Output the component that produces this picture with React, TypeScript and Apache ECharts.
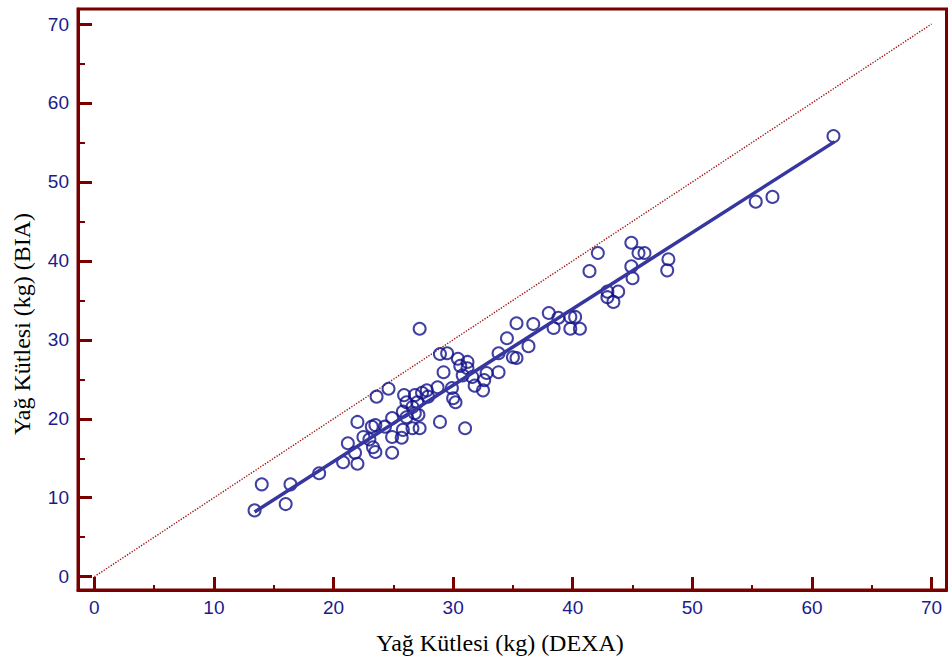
import React, { useEffect, useRef } from "react";
import * as echarts from "echarts";

// DEXA (x) vs BIA (y) fat mass, kg
const dexa = [
  13.4, 14.0, 16.0, 16.4, 18.8, 20.8, 21.2, 21.8, 22.0, 22.0, 22.5, 23.0, 23.2, 23.5, 23.3, 23.5,
  23.6, 24.3, 24.6, 24.9, 24.9, 24.9, 25.7, 25.8, 25.8, 25.9, 26.1, 26.1, 26.6, 26.6, 26.8, 26.8,
  27.0, 27.1, 27.2, 27.2, 27.4, 27.8, 27.9, 28.7, 28.9, 29.5, 29.2, 28.9, 29.9, 30.0, 30.2, 30.4,
  30.6, 31.2, 31.2, 30.8, 31.6, 31.0, 31.8, 32.5, 32.6, 32.8, 33.8, 33.8, 34.5, 35.0, 35.3, 35.3,
  36.3, 36.7, 38.0, 38.4, 38.8, 39.8, 40.2, 39.8, 40.6, 41.4, 42.1, 42.9, 42.9, 43.4, 43.8, 44.9,
  44.9, 45.0, 45.5, 46.0, 48.0, 47.9, 55.3, 56.7, 61.8,
];
const bia = [
  8.4, 11.7, 9.2, 11.7, 13.1, 14.5, 16.9, 15.7, 14.3, 19.6, 17.7, 17.4, 19.0, 19.2, 16.4, 15.8,
  22.8, 19.0, 23.8, 20.1, 17.7, 15.7, 17.6, 18.6, 20.9, 23.0, 20.2, 22.1, 18.8, 21.5, 20.7, 23.0,
  22.1, 20.5, 18.8, 31.4, 23.3, 23.6, 22.8, 24.0, 28.2, 28.3, 25.9, 19.6, 23.9, 22.6, 22.1, 27.6,
  26.7, 27.2, 26.4, 25.5, 25.3, 18.8, 24.2, 23.6, 24.9, 25.8, 28.3, 25.9, 30.2, 27.8, 27.7, 32.1,
  29.2, 32.0, 33.4, 31.5, 32.8, 32.9, 32.9, 31.4, 31.4, 38.7, 41.0, 36.1, 35.4, 34.8, 36.1, 42.3,
  39.3, 37.8, 41.0, 41.0, 40.2, 38.8, 47.5, 48.1, 55.8,
];

// fitted regression line end points and identity line
const fitLine = [
  [13.4, 8.2],
  [61.9, 55.1],
];
const identityLine = [
  [0, 0],
  [70, 70],
];

const majorTicks = [0, 10, 20, 30, 40, 50, 60, 70];
const minorTicks = [5, 15, 25, 35, 45, 55, 65];

const xTitle = "Yağ Kütlesi (kg) (DEXA)";
const yTitle = "Yağ Kütlesi (kg) (BIA)";

const AXIS = "#7a0000";
const LABEL = "#1b1b8c";

export default function App() {
  const ref = useRef<HTMLDivElement>(null);
  useEffect(() => {
    if (!ref.current) return;
    const chart = echarts.init(ref.current, null, { renderer: "svg" });
    const points = dexa.map((x, i) => [x, bia[i]]);
    const xMin = -1.363;
    const xMax = 71.25;
    const yMin = -1.684;
    const yMax = 71.9;
    const labelFont = {
      color: LABEL,
      fontFamily: "Liberation Sans, Arial, sans-serif",
      fontSize: 19,
    };
    const mkX = (minor: boolean) => ({
      type: "value",
      min: xMin,
      max: xMax,
      position: "bottom",
      splitLine: { show: false },
      axisLine: { show: !minor, onZero: false, lineStyle: { color: AXIS, width: 3 } },
      axisTick: {
        show: true,
        inside: true,
        customValues: minor ? minorTicks : majorTicks,
        length: minor ? 5 : 13,
        lineStyle: { color: AXIS, width: minor ? 2 : 3 },
      },
      axisLabel: minor
        ? { show: false }
        : { show: true, customValues: majorTicks, margin: 8, ...labelFont },
    });
    const mkY = (minor: boolean) => ({
      type: "value",
      min: yMin,
      max: yMax,
      position: "left",
      splitLine: { show: false },
      axisLine: { show: !minor, onZero: false, lineStyle: { color: AXIS, width: 3 } },
      axisTick: {
        show: true,
        inside: true,
        customValues: minor ? minorTicks : majorTicks,
        length: minor ? 7 : 14,
        lineStyle: { color: AXIS, width: minor ? 2 : 3 },
      },
      axisLabel: minor
        ? { show: false }
        : { show: true, customValues: majorTicks, margin: 9, ...labelFont },
    });
    chart.setOption({
      animation: false,
      backgroundColor: "#ffffff",
      grid: {
        left: 78,
        right: 1.5,
        top: 9,
        bottom: 74,
        show: true,
        borderColor: AXIS,
        borderWidth: 3,
        containLabel: false,
      },
      xAxis: [mkX(false), mkX(true)],
      yAxis: [mkY(false), mkY(true)],
      graphic: [
        {
          type: "text",
          x: 500,
          y: 643,
          style: {
            text: xTitle,
            fill: "#000",
            font: '24px "Liberation Serif", "Times New Roman", serif',
            textAlign: "center",
            textVerticalAlign: "middle",
          },
        },
        {
          type: "text",
          x: 22,
          y: 324,
          rotation: Math.PI / 2,
          style: {
            text: yTitle,
            fill: "#000",
            font: '24px "Liberation Serif", "Times New Roman", serif',
            textAlign: "center",
            textVerticalAlign: "middle",
          },
        },
      ],
      series: [
        {
          type: "line",
          data: identityLine,
          symbol: "none",
          silent: true,
          z: 1,
          lineStyle: { color: "#a01010", width: 1.4, type: [1.3, 1.5] },
        },
        {
          type: "scatter",
          data: points,
          symbol: "circle",
          symbolSize: 12,
          z: 2,
          itemStyle: {
            color: "rgba(255,255,255,0)",
            borderColor: "#12128a",
            borderWidth: 2,
          },
        },
        {
          type: "line",
          data: fitLine,
          symbol: "none",
          z: 3,
          lineStyle: { color: "#3636a0", width: 3.5 },
        },
      ],
    });
    return () => chart.dispose();
  }, []);
  return (
    <div
      ref={ref}
      style={{ position: "fixed", left: 0, top: 0, width: 948, height: 664, background: "#fff" }}
    />
  );
}
